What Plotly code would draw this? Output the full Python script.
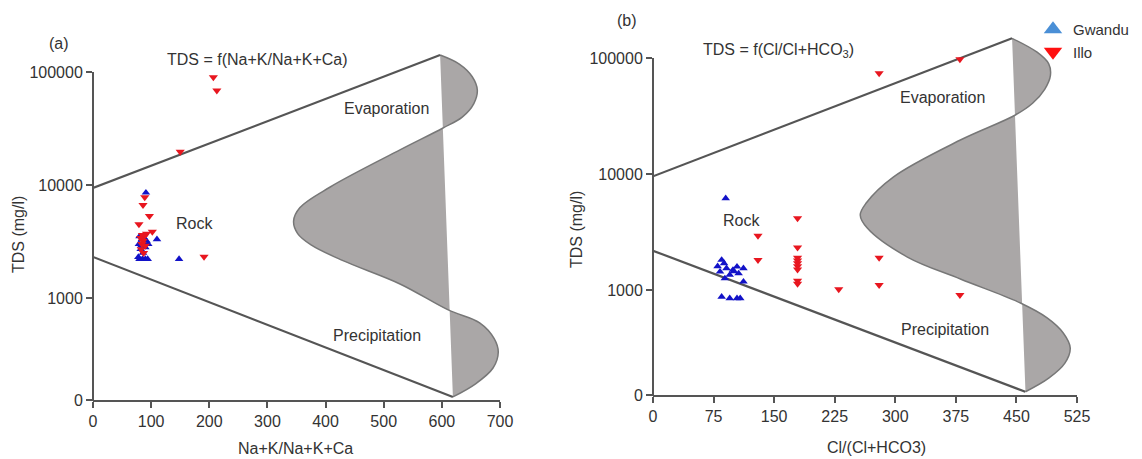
import numpy as np
import plotly.graph_objects as go

# The figure fills the 1142x459 window exactly (the page body margin is removed
# after plotting); all layout positions below are page pixels.
W, H = 1142, 459
OFF = 0
FONT = "Liberation Sans, Arial, sans-serif"
TXT = "#333333"
AX = "#555555"

# ---------------- data: panel (a)  TDS vs Na+K/(Na+K+Ca) ----------------
gw_a_x = [91, 80, 84, 88, 92, 79, 83, 87, 95, 110, 82, 90, 86, 78, 80, 85, 90, 94, 148]
gw_a_tds = [8550, 3500, 3300, 3400, 3200, 3000, 2900, 3100, 3000, 3300, 2700, 2800, 2500, 2300,
            2210, 2210, 2210, 2210, 2210]
il_a_x = [207, 213, 150, 89, 86, 97, 79, 102, 92, 85, 88, 82, 86, 84, 90, 83, 87, 191]
il_a_tds = [89800, 68400, 19700, 7800, 6650, 5320, 4490, 3860, 3700, 3600, 3500, 3400, 3200,
            3000, 2900, 2700, 2500, 2320]

# ---------------- data: panel (b)  TDS vs Cl/(Cl+HCO3) ----------------
gw_b_x = [90, 85, 83, 91, 99, 104, 112, 89, 95, 106, 112, 100, 85, 95, 104, 108, 88, 80]
gw_b_tds = [6170, 1815, 1440, 1540, 1490, 1590, 1540, 1260, 1350, 1390, 1180, 1450, 875, 848,
            848, 848, 1700, 1600]
il_b_x = [280, 380, 130, 130, 179, 179, 179, 179, 179, 179, 179, 179, 179, 230, 280, 280, 380]
il_b_tds = [73800, 97500, 2930, 1815, 4150, 2320, 1900, 1800, 1700, 1600, 1500, 1200, 1130,
            1015, 1900, 1105, 906]

# ---------------- Gibbs envelope (boundary lines + shaded S-curve) ----------------
upper_a_x = [0, 597]
upper_a_logtds = [3.973, 5.150]
lower_a_x = [0, 619]
lower_a_logtds = [3.363, 2.124]
curve_a_x = [597, 630, 652, 661, 655, 635, 602, 528, 408, 356, 345, 352, 375, 430, 528, 611,
             665, 690, 697, 688, 658, 619]
curve_a_logtds = [5.150, 5.070, 4.960, 4.840, 4.720, 4.600, 4.504, 4.310, 3.982, 3.800, 3.680,
                  3.570, 3.470, 3.330, 3.124, 2.894, 2.780, 2.640, 2.520, 2.380, 2.240, 2.124]

upper_b_x = [0, 444.6]
upper_b_logtds = [3.980, 5.170]
lower_b_x = [0, 461]
lower_b_logtds = [3.339, 2.123]
curve_b_x = [444.6, 475.6, 490.0, 492.1, 485.0, 470.0, 448.7, 380.6, 297.5, 264.0, 256.6,
             265.3, 315.0, 380.6, 455.0, 488.0, 508.0, 516.6, 510.0, 490.0, 461.2]
curve_b_logtds = [5.170, 5.050, 4.950, 4.850, 4.730, 4.610, 4.509, 4.293, 3.974, 3.750, 3.647,
                  3.534, 3.284, 3.095, 2.888, 2.760, 2.630, 2.500, 2.370, 2.240, 2.123]

# axis ranges / ticks
xa_ticks = [0, 100, 200, 300, 400, 500, 600, 700]
xb_ticks = [0, 75, 150, 225, 300, 375, 450, 525]
ya_bottom_log = 2.097
yb_bottom_log = 2.095
y_tick_text = ["0", "1000", "10000", "100000"]

fig = go.Figure()

BLUE = "#1212c8"
RED = "#e8161f"
GRAY_FILL = "#aaa7a7"
GRAY_LINE = "#777777"


def px2x(px):
    return (px - OFF) / W


def py2y(py):
    return 1 - (py - OFF) / H


def add_panel(xa, ya, cx, clog, ux, ulog, lx, llog, gx, gt, ix, it):
    fig.add_trace(go.Scatter(x=cx, y=np.power(10.0, clog), mode="lines", xaxis=xa, yaxis=ya,
                             line=dict(shape="spline", smoothing=1.0, color=GRAY_LINE, width=1.5),
                             fill="toself", fillcolor=GRAY_FILL, showlegend=False,
                             hoverinfo="skip"))
    for bx, blog in ((ux, ulog), (lx, llog)):
        fig.add_trace(go.Scatter(x=bx, y=np.power(10.0, blog), mode="lines", xaxis=xa, yaxis=ya,
                                 line=dict(color=AX, width=2.2), showlegend=False,
                                 hoverinfo="skip"))
    fig.add_trace(go.Scatter(x=gx, y=gt, mode="markers", xaxis=xa, yaxis=ya, name="Gwandu",
                             marker=dict(symbol="triangle-up", size=7.5, color=BLUE),
                             showlegend=False))
    fig.add_trace(go.Scatter(x=ix, y=it, mode="markers", xaxis=xa, yaxis=ya, name="Illo",
                             marker=dict(symbol="triangle-down", size=8, color=RED),
                             showlegend=False))


add_panel("x", "y", curve_a_x, curve_a_logtds, upper_a_x, upper_a_logtds, lower_a_x,
          lower_a_logtds, gw_a_x, gw_a_tds, il_a_x, il_a_tds)
add_panel("x2", "y2", curve_b_x, curve_b_logtds, upper_b_x, upper_b_logtds, lower_b_x,
          lower_b_logtds, gw_b_x, gw_b_tds, il_b_x, il_b_tds)

# legend entries
fig.add_trace(go.Scatter(x=[None], y=[None], mode="markers", xaxis="x2", yaxis="y2",
                         name="Gwandu", marker=dict(symbol="triangle-up", size=16,
                                                    color="#4a8fd6")))
fig.add_trace(go.Scatter(x=[None], y=[None], mode="markers", xaxis="x2", yaxis="y2",
                         name="Illo", marker=dict(symbol="triangle-down", size=16,
                                                  color="#ff1010")))

# geometry (page pixels) of the two plot areas
A = dict(l=93, r=500, t=40, b=400)
B = dict(l=653, r=1077, t=30, b=395)
ya_range = [ya_bottom_log, ya_bottom_log + (A["b"] - A["t"]) / 113.0]
yb_range = [yb_bottom_log, yb_bottom_log + (B["b"] - B["t"]) / 116.0]


def xdom(g):
    return [px2x(g["l"]), px2x(g["r"])]


def ydom(g):
    return [py2y(g["b"]), py2y(g["t"])]


tickfont = dict(family=FONT, size=16, color=TXT)
common_x = dict(showgrid=False, zeroline=False, showline=True, linecolor=AX, linewidth=2,
                ticks="outside", ticklen=6, tickwidth=2, tickcolor=AX, tickfont=tickfont,
                automargin=False)
common_y = dict(type="log", showgrid=False, zeroline=False, showline=False,
                ticks="outside", ticklen=6, tickwidth=2, tickcolor=AX, tickfont=tickfont,
                automargin=False)

fig.update_layout(
    width=W, height=H,
    margin=dict(l=0, r=0, t=0, b=0, autoexpand=False),
    paper_bgcolor="white", plot_bgcolor="white",
    font=dict(family=FONT, size=16, color=TXT),
    xaxis=dict(domain=xdom(A), range=[0, 700], tickvals=xa_ticks, anchor="y", **common_x),
    yaxis=dict(domain=ydom(A), range=ya_range, anchor="x",
               tickvals=[10 ** ya_bottom_log, 1e3, 1e4, 1e5], ticktext=y_tick_text, **common_y),
    xaxis2=dict(domain=xdom(B), range=[0, 525], tickvals=xb_ticks, anchor="y2", **common_x),
    yaxis2=dict(domain=ydom(B), range=yb_range, anchor="x2",
                tickvals=[10 ** yb_bottom_log, 1e3, 1e4, 1e5], ticktext=y_tick_text, **common_y),
    legend=dict(x=px2x(1033), y=py2y(13), xanchor="left", yanchor="top",
                bgcolor="rgba(0,0,0,0)", font=dict(family=FONT, size=15, color=TXT),
                tracegroupgap=0, itemwidth=30),
    showlegend=True,
)


# y-axis lines from the bottom to the 100000 tick (as in the original)
def yline(g, rng, domy):
    def py(logv):
        return domy[0] + (logv - rng[0]) / (rng[1] - rng[0]) * (domy[1] - domy[0])
    fig.add_shape(type="line", xref="paper", yref="paper", x0=px2x(g["l"]), x1=px2x(g["l"]),
                  y0=domy[0] - 1 / H, y1=py(5.0), line=dict(color=AX, width=2))


yline(A, ya_range, ydom(A))
yline(B, yb_range, ydom(B))


def ann(text, px, py, angle=0, size=16):
    fig.add_annotation(text=text, x=px2x(px), y=py2y(py), xref="paper", yref="paper",
                       showarrow=False, textangle=angle, xanchor="center", yanchor="middle",
                       font=dict(family=FONT, size=size, color=TXT))


ann("(a)", 59, 44)
ann("(b)", 627, 20)
ann("TDS = f(Na+K/Na+K+Ca)", 257, 59)
ann("TDS = f(Cl/Cl+HCO<sub>3</sub>)", 779, 50)
ann("Evaporation", 386, 108)
ann("Evaporation", 942, 98)
ann("Precipitation", 377, 335)
ann("Precipitation", 945, 329)
ann("Rock", 194, 223)
ann("Rock", 741, 220)
ann("TDS (mg/l)", 18, 235, angle=-90)
ann("TDS (mg/l)", 577, 230, angle=-90)
ann("Na+K/Na+K+Ca", 295, 448)
ann("Cl/(Cl+HCO3)", 876, 447)

fig.write_html("out.html",
               config={"displayModeBar": False},
               post_script="document.body.style.margin='0';"
                           "document.body.style.overflow='hidden';")
